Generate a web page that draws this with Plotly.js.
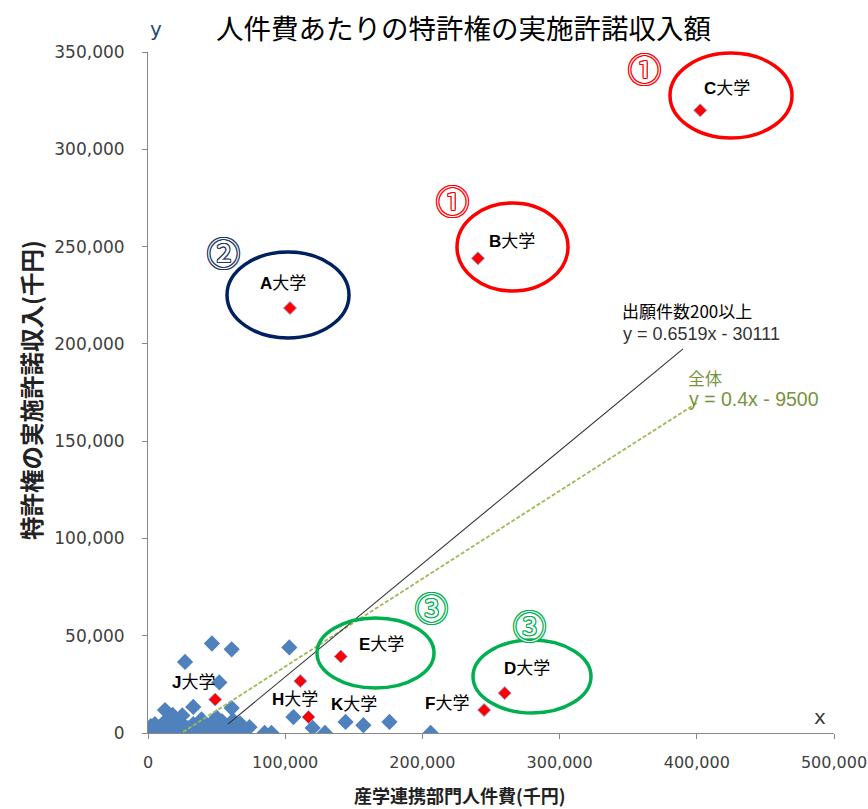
<!DOCTYPE html>
<html>
<head>
<meta charset="utf-8">
<script src="https://cdn.plot.ly/plotly-3.0.1.min.js"></script>
<style>html,body{margin:0;padding:0;background:#fff;}</style>
</head>
<body>
<div id="chart" style="width:868px;height:809px;"></div>
<script>
// ---- data (千円) ----
const blueX = [46600, 61000, 103000, 27000, 52000, 12400, 33000, 61000, 18000, 106000,
  120000, 129000, 144000, 157000, 176000, 206000, 85000, 90000,
  0, 3000, 6000, 9000, 11000, 14000, 17000, 20000, 23000, 26000, 29000, 33000,
  36000, 39000, 42000, 45000, 48000, 51000, 54000, 57000, 60000, 64000, 67000, 70000, 74000,
  2000, 8000, 15000, 22000, 31000, 38000, 44000, 50000, 56000, 62000, 68000, 5000, 25000, 41000];
const blueY = [46000, 43000, 44000, 36500, 26000, 11800, 13400, 12800, 9300, 8200,
  2600, 0, 5700, 4000, 5700, 0, 0, 0,
  0, 1000, 500, 2000, 5000, 0, 3000, 1000, 6000, 0, 2500, 4500,
  0, 7000, 1500, 4000, 0, 2000, 6000, 500, 3000, 0, 5000, 1000, 3000,
  3500, 0, 7500, 2500, 0, 3000, 500, 8000, 1500, 6500, 0, 4500, 9000, 0];

const redNames = ['A大学', 'B大学', 'C大学', 'D大学', 'E大学', 'F大学', 'H大学', 'K大学', 'J大学'];
const redX = [103500, 240500, 402500, 260000, 140500, 245000, 111000, 117000, 49000];
const redY = [218400, 244000, 320000, 20500, 39300, 11800, 26700, 8200, 17200];

// trend lines as drawn
const trend200Name = '出願件数200以上';
const trend200Eq = 'y = 0.6519x - 30111';
const trend200X = [58300, 390000];
const trend200Y = [4600, 197400];
const trendAllName = '全体';
const trendAllEq = 'y = 0.4x - 9500';
const trendAllX = [25500, 400000];
const trendAllY = [500, 169600];

const xTicks = [0, 100000, 200000, 300000, 400000, 500000];
const yTicks = [0, 50000, 100000, 150000, 200000, 250000, 300000, 350000];

const titleText = '人件費あたりの特許権の実施許諾収入額';
const xTitle = '産学連携部門人件費(千円)';
const yTitle = '特許権の実施許諾収入(千円)';

// ---- layout helpers (pixel -> paper) ----
const L = 148, R = 834, T = 52, B = 733;
const px = p => (p - L) / (R - L);
const py = p => (B - p) / (B - T);

const traces = [
  {x: blueX, y: blueY, type: 'scatter', mode: 'markers', name: 'all',
   marker: {symbol: 'diamond', size: 12.5, color: '#4F81BD', line: {width: 0}}},
  {x: trendAllX, y: trendAllY, type: 'scatter', mode: 'lines', name: trendAllName,
   line: {color: '#9BBB59', width: 1.8, dash: '4px,2px'}},
  {x: trend200X, y: trend200Y, type: 'scatter', mode: 'lines', name: trend200Name,
   line: {color: '#333', width: 1.1}},
  {x: redX, y: redY, type: 'scatter', mode: 'markers', name: 'named', text: redNames,
   marker: {symbol: 'diamond', size: 10, color: '#FF0000', line: {width: 1, color: '#9A9ACD'}}}
];

const labelPos = { // pixel centres of the labels
  'A大学': [283, 283], 'B大学': [512, 242], 'C大学': [727, 89], 'D大学': [527, 668],
  'E大学': [381, 644], 'F大学': [447, 703], 'H大学': [295, 699], 'K大学': [354, 704], 'J大学': [193, 682]
};

const ann = [];
redNames.forEach(n => {
  const p = labelPos[n];
  ann.push({text: '<b>' + n[0] + '</b>' + n.slice(1), xref: 'paper', yref: 'paper', x: px(p[0]), y: py(p[1]),
    xanchor: 'center', yanchor: 'middle', showarrow: false,
    font: {family: 'Liberation Sans, Noto Sans CJK JP', size: 17, color: '#000'}});
});

function outlined(txt, cx, cy, col) {
  const s = col;
  return {text: txt, xref: 'paper', yref: 'paper', x: px(cx), y: py(cy), xanchor: 'center', yanchor: 'middle',
    showarrow: false,
    font: {family: 'Noto Sans CJK JP', size: 33, color: '#ffffff',
      shadow: `1px 0 0 ${s}, -1px 0 0 ${s}, 0 1px 0 ${s}, 0 -1px 0 ${s}, 1px 1px 0 ${s}, -1px -1px 0 ${s}, 1px -1px 0 ${s}, -1px 1px 0 ${s}`}};
}
ann.push(outlined('①', 644, 68, '#FF0000'));
ann.push(outlined('①', 452, 200, '#FF0000'));
ann.push(outlined('②', 223, 252, '#1F3864'));
ann.push(outlined('③', 431, 607, '#00B050'));
ann.push(outlined('③', 529, 625, '#00B050'));

// trend labels
ann.push({text: trend200Name, xref: 'paper', yref: 'paper', x: px(620), y: py(311), xanchor: 'left', yanchor: 'middle',
  showarrow: false, font: {family: 'Noto Sans CJK JP', size: 17, color: '#000'}});
ann.push({text: trend200Eq, xref: 'paper', yref: 'paper', x: px(621), y: py(334), xanchor: 'left', yanchor: 'middle',
  showarrow: false, font: {family: 'Liberation Sans', size: 18, color: '#333'}});
ann.push({text: trendAllName, xref: 'paper', yref: 'paper', x: px(686), y: py(378), xanchor: 'left', yanchor: 'middle',
  showarrow: false, font: {family: 'Noto Sans CJK JP', size: 17, color: '#77933C'}});
ann.push({text: trendAllEq, xref: 'paper', yref: 'paper', x: px(687), y: py(399), xanchor: 'left', yanchor: 'middle',
  showarrow: false, font: {family: 'Liberation Sans', size: 19.5, color: '#77933C'}});

// title, axis titles, x / y letters
ann.push({text: titleText, xref: 'paper', yref: 'paper', x: px(463), y: py(27), xanchor: 'center', yanchor: 'middle',
  showarrow: false, font: {family: 'Noto Sans CJK JP', size: 27.5, color: '#000'}});
ann.push({text: '<b>' + xTitle + '</b>', xref: 'paper', yref: 'paper', x: px(460), y: py(795), xanchor: 'center', yanchor: 'middle',
  showarrow: false, font: {family: 'Noto Sans CJK JP', size: 18, color: '#222'}});
ann.push({text: '<b>' + yTitle + '</b>', xref: 'paper', yref: 'paper', x: px(31), y: py(390), xanchor: 'center', yanchor: 'middle',
  textangle: -90, showarrow: false, font: {family: 'Noto Sans CJK JP', size: 23.5, color: '#222'}});
ann.push({text: 'y', xref: 'paper', yref: 'paper', x: px(156), y: py(29), xanchor: 'center', yanchor: 'middle',
  showarrow: false, font: {family: 'DejaVu Sans', size: 20, color: '#1F497D'}});
ann.push({text: 'x', xref: 'paper', yref: 'paper', x: px(820), y: py(717), xanchor: 'center', yanchor: 'middle',
  showarrow: false, font: {family: 'DejaVu Sans', size: 20, color: '#404040'}});

const shapes = [];
function ell(x0, x1, y0, y1, col) {
  shapes.push({type: 'circle', xref: 'paper', yref: 'paper', x0: px(x0), x1: px(x1), y0: py(y1), y1: py(y0),
    line: {color: col, width: 3.5}, fillcolor: 'rgba(0,0,0,0)'});
}
ell(670, 792, 53, 138, '#FF0000');
ell(457, 568, 203, 291, '#FF0000');
ell(227, 349, 252, 338, '#002060');
ell(317, 434, 618, 688, '#00B050');
ell(473, 591, 640, 713, '#00B050');

const axisCommon = {showgrid: false, zeroline: false, showline: true, linecolor: '#888', linewidth: 1,
  ticks: 'outside', ticklen: 5, tickcolor: '#888', tickformat: ',d'};

const layout = {
  width: 868, height: 809,
  margin: {l: L, r: 868 - R, t: T, b: 809 - B},
  paper_bgcolor: '#fff', plot_bgcolor: '#fff',
  showlegend: false,
  xaxis: Object.assign({}, axisCommon, {range: [0, 500000], tickvals: xTicks, ticklabelstandoff: 10,
    ticklabeloverflow: 'allow', tickfont: {family: 'DejaVu Sans', size: 16, color: '#404040'}}),
  yaxis: Object.assign({}, axisCommon, {range: [0, 350000], tickvals: yTicks, ticklabelstandoff: 14,
    tickfont: {family: 'DejaVu Sans', size: 17, color: '#404040'}}),
  annotations: ann,
  shapes: shapes
};

Plotly.newPlot('chart', traces, layout, {staticPlot: true, displayModeBar: false});
</script>
</body>
</html>
